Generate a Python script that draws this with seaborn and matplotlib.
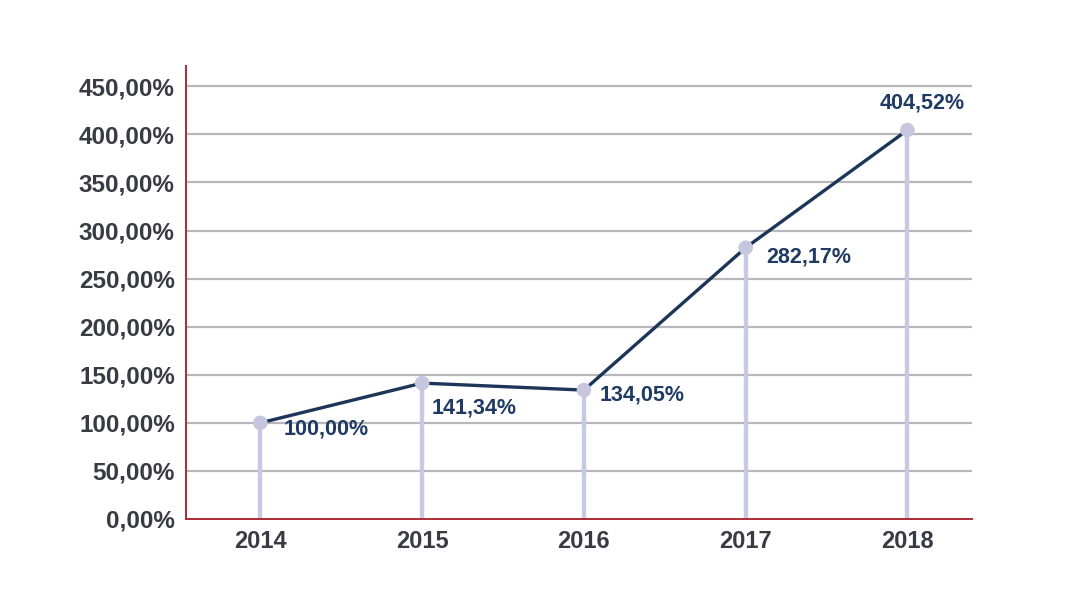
import matplotlib
matplotlib.use("Agg")
import matplotlib.pyplot as plt
import seaborn as sns
import pandas as pd

years = [2014, 2015, 2016, 2017, 2018]
values = [100.00, 141.34, 134.05, 282.17, 404.52]
labels = ["100,00%", "141,34%", "134,05%", "282,17%", "404,52%"]
yticks = [0, 50, 100, 150, 200, 250, 300, 350, 400, 450]
ytick_labels = ["0,00%", "50,00%", "100,00%", "150,00%", "200,00%",
                "250,00%", "300,00%", "350,00%", "400,00%", "450,00%"]

sns.set_theme(style="white")
plt.rcParams['font.family'] = ['Liberation Sans', 'DejaVu Sans']

df = pd.DataFrame({"year": years, "value": values})

fig = plt.figure(figsize=(10.73, 6.07), dpi=100, facecolor="white")
ax = fig.add_axes([0.1733, 0.145, 0.7327, 0.746])

# horizontal grid
for t in yticks[1:]:
    ax.axhline(t, color="#b8b8bc", lw=1.6, zorder=0)

# stems
ax.vlines(df["year"], 0, df["value"], color="#c9c9e2", lw=3.2, zorder=1)
sns.lineplot(data=df, x="year", y="value", color="#1c3558", lw=2.4, ax=ax, zorder=2)
sns.scatterplot(data=df, x="year", y="value", color="#c6c6de", s=110, edgecolor="none", ax=ax, zorder=3)

# label offsets in points
offsets = [(16.5, -4.5), (7, -18), (11, -3.6), (15, -7), (-20, 19.5)]
for x, y, lab, (dx, dy) in zip(years, values, labels, offsets):
    ax.annotate(lab, (x, y), xytext=(dx, dy), textcoords="offset points",
                ha="left", va="center", fontsize=15.5, fontweight="bold", color="#1f3a63")

ax.set_xlim(2013.54, 2018.40)
ax.set_ylim(0, 471)
ax.set_xticks(years)
ax.set_xticklabels([str(y) for y in years], fontsize=17, fontweight="bold", color="#3a3a44")
ax.set_yticks(yticks)
ax.set_yticklabels(ytick_labels, fontsize=17.5, fontweight="bold", color="#3a3a44")
ax.tick_params(axis="both", length=0, pad=8)
ax.set_xlabel("")
ax.set_ylabel("")

for s in ["top", "right"]:
    ax.spines[s].set_visible(False)
for s in ["left", "bottom"]:
    ax.spines[s].set_color("#b02a35")
    ax.spines[s].set_linewidth(1.4)

fig.savefig("out.png", dpi=100, facecolor="white")
